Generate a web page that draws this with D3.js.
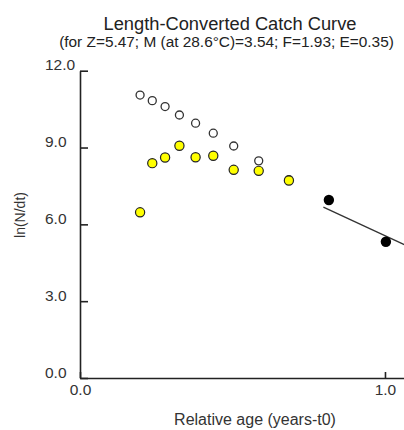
<!DOCTYPE html>
<html>
<head>
<meta charset="utf-8">
<script src="https://cdn.jsdelivr.net/npm/d3@7"></script>
<style>
  body { margin: 0; background: #fff; }
  svg { display: block; font-family: "Liberation Sans", Arial, sans-serif; }
  .axis path, .axis line { stroke: #222; stroke-width: 1.6; }
  .axis text { fill: #333; font-size: 15.5px; font-family: "Liberation Sans", Arial, sans-serif; }
</style>
</head>
<body>
<script>
// values
var ages      = [0.197, 0.237, 0.279, 0.326, 0.379, 0.437, 0.504, 0.586, 0.685]
var lnAll     = [11.05, 10.83, 10.60, 10.27, 9.95, 9.56, 9.06, 8.48, 7.75]   // open circles
var lnCorr    = [6.47, 8.39, 8.61, 9.07, 8.62, 8.68, 8.13, 8.09, 7.71]       // yellow
var usedAges  = [0.816, 1.003]
var usedLn    = [6.95, 5.32]
var fitAges   = [0.798, 1.065]
var fitLn     = [6.67, 5.20]
var yTicks    = [0, 3, 6, 9, 12]
var xTicks    = [0, 1]

var width = 404, height = 430

var svg = d3.select('body').append('svg')
    .attr('width', width).attr('height', height)

var x = d3.scaleLinear().domain([0, 1.065]).range([80, 404.8])
var y = d3.scaleLinear().domain([0, 12]).range([378, 70.7])

// titles
svg.append('text')
    .attr('x', 230).attr('y', 30)
    .attr('text-anchor', 'middle')
    .attr('font-size', '18.3px')
    .attr('fill', '#222')
    .text('Length-Converted Catch Curve')

svg.append('text')
    .attr('x', 226.5).attr('y', 47)
    .attr('text-anchor', 'middle')
    .attr('font-size', '15.4px')
    .attr('fill', '#222')
    .text('(for Z=5.47; M (at 28.6\u00B0C)=3.54; F=1.93; E=0.35)')

// axes
var yAxis = svg.append('g')
    .attr('class', 'axis')
    .attr('transform', 'translate(80,0)')
    .call(d3.axisLeft(y).tickValues(yTicks).tickSize(-8).tickSizeOuter(0)
      .tickFormat(d3.format('.1f')))
yAxis.selectAll('text')
    .attr('text-anchor', 'start')
    .attr('x', -35)
    .attr('dy', '-0.05em')

var xAxis = svg.append('g')
    .attr('class', 'axis')
    .attr('transform', 'translate(0,378)')
    .call(d3.axisBottom(x).tickValues(xTicks).tickSize(-6).tickSizeOuter(0)
      .tickFormat(d3.format('.1f')))
xAxis.selectAll('text')
    .attr('y', 17)
    .attr('dy', 0)
    .attr('font-size', '15px')

// axis labels
svg.append('text')
    .attr('x', 255).attr('y', 425)
    .attr('text-anchor', 'middle')
    .attr('font-size', '16px')
    .attr('fill', '#333')
    .text('Relative age (years-t0)')

svg.append('text')
    .attr('transform', 'translate(25,215) rotate(-90)')
    .attr('text-anchor', 'middle')
    .attr('font-size', '14px')
    .attr('fill', '#333')
    .text('ln(N/dt)')

// regression line
svg.append('line')
    .attr('x1', x(fitAges[0])).attr('y1', y(fitLn[0]))
    .attr('x2', x(fitAges[1])).attr('y2', y(fitLn[1]))
    .attr('stroke', '#333').attr('stroke-width', 1.3)

// points
var allPts = ages.map(function(a, i) { return {t: a, v: lnAll[i]} })
var corrPts = ages.map(function(a, i) { return {t: a, v: lnCorr[i]} })
var usedPts = usedAges.map(function(a, i) { return {t: a, v: usedLn[i]} })

svg.selectAll('.open')
    .data(allPts)
    .enter().append('circle')
    .attr('class', 'open')
    .attr('cx', function(d) { return x(d.t) })
    .attr('cy', function(d) { return y(d.v) })
    .attr('r', 4)
    .attr('fill', '#fff')
    .attr('stroke', '#333')
    .attr('stroke-width', 1.3)

svg.selectAll('.corr')
    .data(corrPts)
    .enter().append('circle')
    .attr('class', 'corr')
    .attr('cx', function(d) { return x(d.t) })
    .attr('cy', function(d) { return y(d.v) })
    .attr('r', 4.6)
    .attr('fill', '#ffff00')
    .attr('stroke', '#222')
    .attr('stroke-width', 1.2)

svg.selectAll('.used')
    .data(usedPts)
    .enter().append('circle')
    .attr('class', 'used')
    .attr('cx', function(d) { return x(d.t) })
    .attr('cy', function(d) { return y(d.v) })
    .attr('r', 5.2)
    .attr('fill', '#000')
</script>
</body>
</html>
